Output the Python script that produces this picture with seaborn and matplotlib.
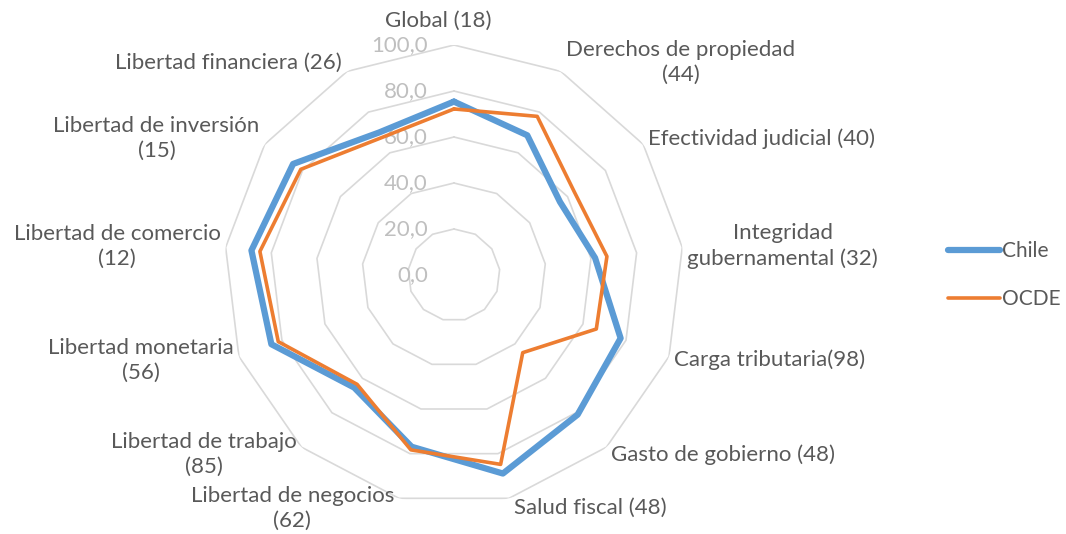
import numpy as np
import pandas as pd
import seaborn as sns
import matplotlib.pyplot as plt
from matplotlib.lines import Line2D

sns.set_theme(style='white')
plt.rcParams['font.family'] = ['Lato', 'DejaVu Sans']

categorias = ['Global (18)', 'Derechos de propiedad\n(44)', 'Efectividad judicial (40)',
              'Integridad\ngubernamental (32)', 'Carga tributaria(98)', 'Gasto de gobierno (48)',
              'Salud fiscal (48)', 'Libertad de negocios\n(62)', 'Libertad de trabajo\n(85)',
              'Libertad monetaria\n(56)', 'Libertad de comercio\n(12)', 'Libertad de inversión\n(15)',
              'Libertad financiera (26)']
chile = [75.4, 68.6, 56.0, 61.8, 77.5, 81.1, 88.9, 76.9, 65.4, 84.9, 88.7, 85.0, 70.0]
ocde = [72.2, 77.9, 63.6, 67.0, 66.2, 45.1, 84.8, 78.3, 63.5, 81.7, 85.0, 80.9, 67.5]
anillos = [0, 20, 40, 60, 80, 100]

n = len(categorias)
theta = np.linspace(0, 2 * np.pi, n, endpoint=False)
theta_c = np.append(theta, 2 * np.pi)

fig = plt.figure(figsize=(10.66, 5.34), dpi=100)
ax = fig.add_axes([0.2101, 0.0543, 0.4315, 0.8614], projection='polar')
ax.set_theta_zero_location('N')
ax.set_theta_direction(-1)
ax.set_ylim(0, 100)
ax.grid(False)
ax.spines['polar'].set_visible(False)
ax.set_xticks([])
ax.set_yticks([])

# rejilla poligonal
for r in anillos[1:]:
    ax.plot(theta_c, [r] * (n + 1), color='#d9d9d9', lw=1.2, zorder=1)

df = pd.DataFrame({'theta': np.concatenate([theta_c, theta_c]),
                   'valor': chile + chile[:1] + ocde + ocde[:1],
                   'serie': ['Chile'] * (n + 1) + ['OCDE'] * (n + 1)})
sns.lineplot(data=df[df.serie == 'Chile'], x='theta', y='valor', sort=False, estimator=None,
             ax=ax, color='#5b9bd5', lw=4.5, zorder=3, legend=False)
sns.lineplot(data=df[df.serie == 'OCDE'], x='theta', y='valor', sort=False, estimator=None,
             ax=ax, color='#ed7d31', lw=2.6, zorder=4, legend=False)
ax.set_xlabel('')
ax.set_ylabel('')

# etiquetas de los anillos
for r in anillos:
    ax.annotate(f'{r:.1f}'.replace('.', ','), xy=(0, r), xytext=(-26, 0),
                textcoords='offset pixels', ha='right', va='center',
                color='#bfbfbf', fontsize=16, annotation_clip=False, zorder=2)

# etiquetas de las categorias
for t, lab in zip(theta, categorias):
    s, c = np.sin(t), np.cos(t)
    if abs(s) < 0.1:
        ha, dx = 'center', -16
    elif s > 0:
        ha, dx = 'left', 5
    else:
        ha, dx = 'right', -5
    dy = 10 * c
    ax.annotate(lab, xy=(t, 100), xytext=(dx, dy + (14 if abs(s) < 0.1 else 0)),
                textcoords='offset pixels', ha=ha, va='center', multialignment='center',
                linespacing=1.3, color='#595959', fontsize=16, annotation_clip=False)

handles = [Line2D([], [], color='#5b9bd5', lw=4.5, solid_capstyle='round'),
           Line2D([], [], color='#ed7d31', lw=2.6, solid_capstyle='round')]
fig.legend(handles, ['Chile', 'OCDE'], loc='center left', bbox_to_anchor=(0.872, 0.485),
           frameon=False, fontsize=15, handlelength=2.5, handletextpad=0.1,
           labelspacing=1.35, labelcolor='#595959')

fig.savefig('out.png', dpi=100)
